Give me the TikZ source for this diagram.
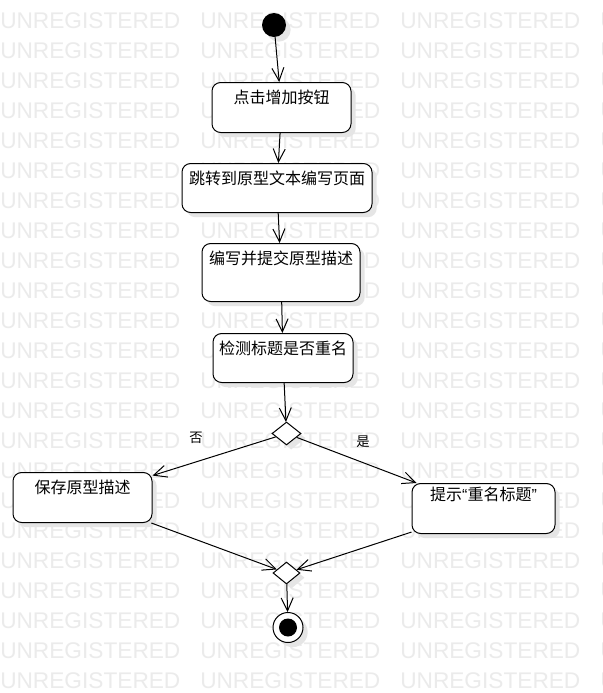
\documentclass[tikz,border=0pt]{standalone}
\usepackage{fontspec}
\setmainfont{Noto Sans CJK SC}
\newfontfamily\wmfont{Liberation Sans}
\usetikzlibrary{arrows.meta,shapes.geometric,shadows}

\begin{document}
\begin{tikzpicture}[x=0.75pt,y=-0.75pt,
shade/.style={general shadow={fill=black!10,shadow xshift=3.5pt,shadow yshift=-3.5pt}},
act/.style={draw,fill=white,line width=0.75pt,rounded corners=6.5pt,inner sep=0pt,anchor=north,
  text height=15.75pt,font=\fontsize{12pt}{14pt}\selectfont,shade},
dec/.style={draw,fill=white,line width=0.75pt,diamond,inner sep=0pt,shade},
flow/.style={line width=0.75pt,-{Straight Barb[length=9.75pt,width=9pt]}},
wm/.style={anchor=base west,inner sep=0pt,text=black!8,font=\wmfont\fontsize{17pt}{17pt}\selectfont}]
\path[fill=white,use as bounding box](0,0)rectangle(603,693);
\begin{scope}
\clip(0,0)rectangle(603,693);
\foreach \r in {0,...,22}
  \foreach \c in {0,...,3}
    \node[wm](wm-\r-\c)at(\c*200,28+\r*30){UNREGISTERED};
\end{scope}
\node[circle,fill=black,minimum size=18pt,inner sep=0pt,shade](init)at(274,25){};
\node[act,minimum width=104.25pt,text depth=21.75pt](b1)at(281.5,82){点击增加按钮};
\node[act,minimum width=142.5pt,text depth=21pt](b2)at(277,163){跳转到原型文本编写页面};
\node[act,minimum width=118.5pt,text depth=27.75pt](b3)at(281,243){编写并提交原型描述};
\node[act,minimum width=105pt,text depth=21pt](b4)at(283,333){检测标题是否重名};
\node[dec,minimum width=21.75pt,minimum height=17.25pt](d1)at(286.5,433.5){};
\node[act,minimum width=104.25pt,text depth=21.75pt](b5)at(82.5,472){保存原型描述};
\node[act,minimum width=107.25pt,text height=13pt,text depth=24.5pt](b6)at(483.5,483){提示{\wmfont“}重名标题{\wmfont”}};
\node[dec,minimum width=20.25pt,minimum height=16.5pt](d2)at(286.5,573){};
\node[draw,fill=white,circle,line width=0.75pt,minimum size=22.5pt,inner sep=0pt,shade,
  path picture={\fill[black](path picture bounding box.center)circle(6.75pt);}](fin)at(288,627.5){};
\node[font=\fontsize{10pt}{12pt}\selectfont](no)at(196,438){否};
\node[font=\fontsize{10pt}{12pt}\selectfont](yes)at(363,442){是};
\draw[flow](init)--(b1);
\draw[flow](b1)--(b2);
\draw[flow](b2)--(b3);
\draw[flow](b3)--(b4);
\draw[flow](b4)--(d1);
\draw[flow](d1)--(b5);
\draw[flow](d1)--(b6);
\draw[flow](b5)--(d2);
\draw[flow](b6)--(d2);
\draw[flow](d2)--(fin);
\end{tikzpicture}
\end{document}
